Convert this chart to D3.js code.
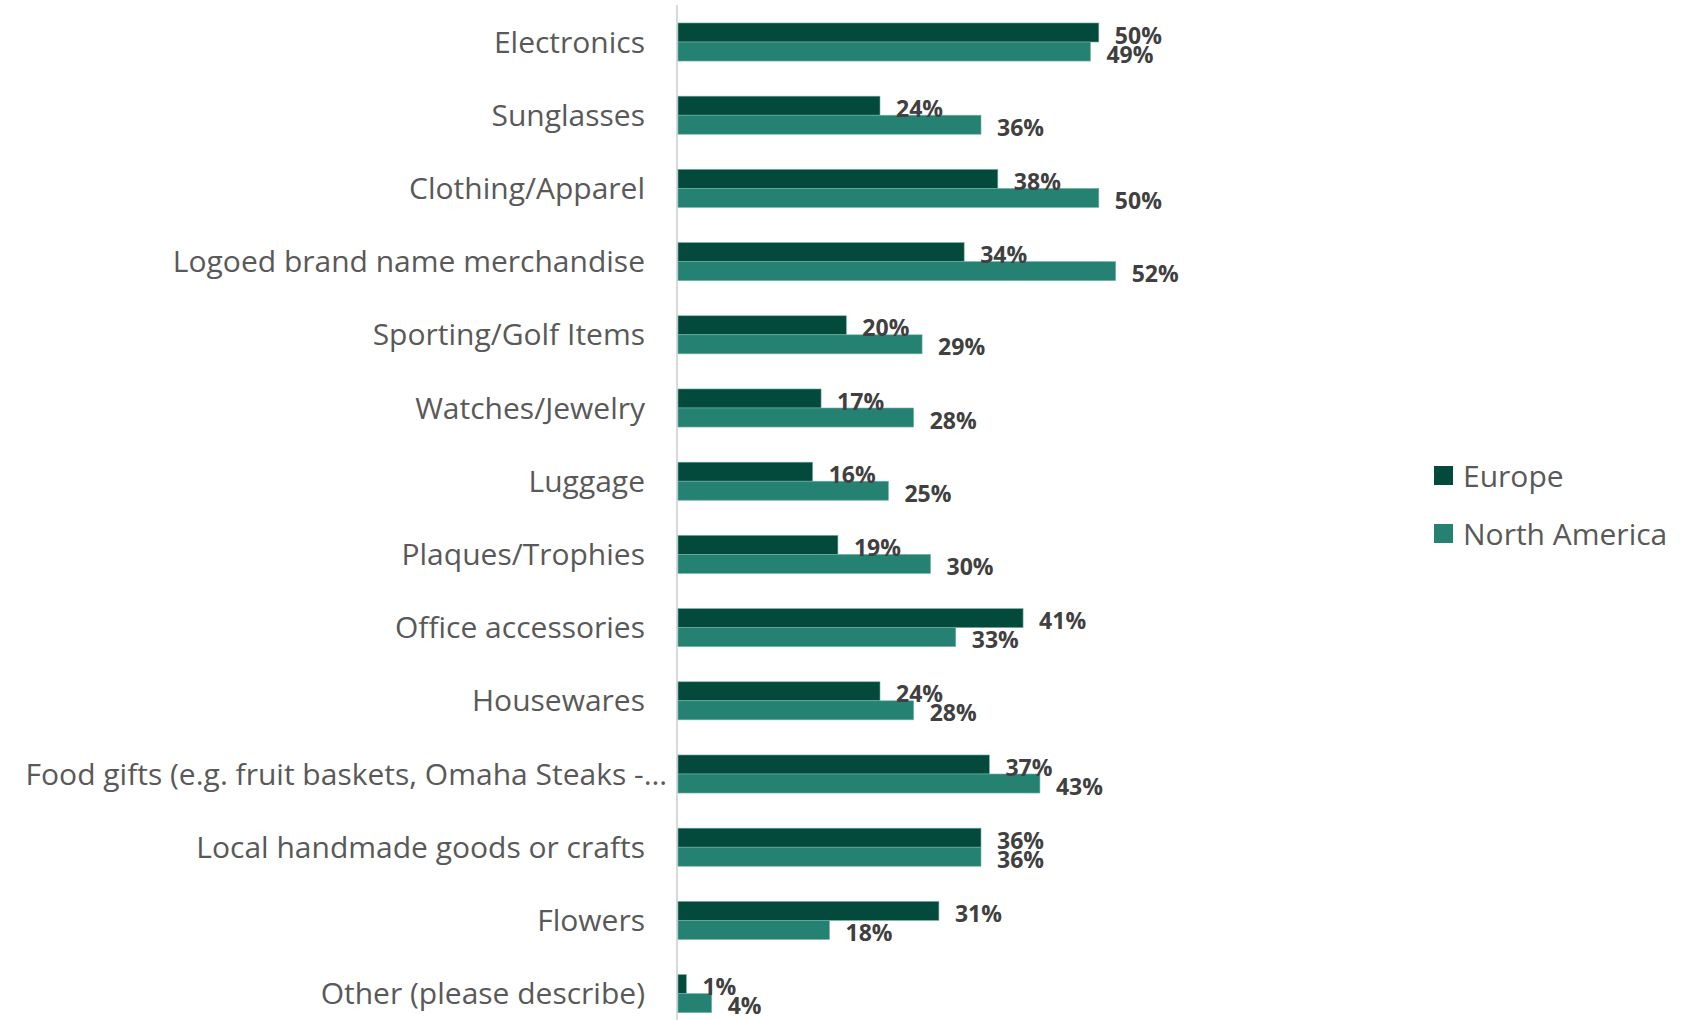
<!DOCTYPE html>
<html>
<head>
<meta charset="utf-8">
<script src="https://cdn.jsdelivr.net/npm/d3@7"></script>
<style>
  html, body { margin: 0; padding: 0; background: #ffffff; }
  svg { display: block; }
</style>
</head>
<body>
<svg id="chart" width="1690" height="1020"></svg>
<script>
// Gift categories, top to bottom
const categories = [
  "Electronics",
  "Sunglasses",
  "Clothing/Apparel",
  "Logoed brand name merchandise",
  "Sporting/Golf Items",
  "Watches/Jewelry",
  "Luggage",
  "Plaques/Trophies",
  "Office accessories",
  "Housewares",
  "Food gifts (e.g. fruit baskets, Omaha Steaks -…",
  "Local handmade goods or crafts",
  "Flowers",
  "Other (please describe)"
];

const seriesNames = ["Europe", "North America"];

// Share of respondents (%)
const europe       = [50, 24, 38, 34, 20, 17, 16, 19, 41, 24, 37, 36, 31, 1];
const northAmerica = [49, 36, 50, 52, 29, 28, 25, 30, 33, 28, 43, 36, 18, 4];

const colors = ["#034a3d", "#258273"];

const rows = categories.map((c, i) => ({ category: c, values: [europe[i], northAmerica[i]] }));

const svg = d3.select("#chart");
const font = "'Open Sans', 'Noto Sans', sans-serif";

const x = d3.scaleLinear().domain([0, 60]).range([678, 1183]);

const y = d3.scaleBand()
  .domain(categories)
  .range([5.4, 1030.2])
  .paddingInner(0.48)
  .paddingOuter(0.24);

const ySeries = d3.scaleBand()
  .domain(seriesNames)
  .range([0, y.bandwidth()]);

// Category axis line
svg.append("line")
  .attr("x1", x(0) - 1).attr("x2", x(0) - 1)
  .attr("y1", 5).attr("y2", 1020)
  .attr("stroke", "#d9d9d9")
  .attr("stroke-width", 2);

// Category labels
svg.append("g").selectAll("text")
  .data(rows)
  .join("text")
  .attr("x", d => d.category.startsWith("Food") ? 667 : 645)
  .attr("y", d => y(d.category) + y.bandwidth() / 2)
  .attr("dy", "0.35em")
  .attr("text-anchor", "end")
  .attr("font-family", font)
  .attr("font-size", 30)
  .attr("fill", "#595959")
  .text(d => d.category);

// Bars and value labels
const groups = svg.append("g").selectAll("g")
  .data(rows)
  .join("g")
  .attr("transform", d => `translate(0,${y(d.category)})`);

groups.selectAll("rect")
  .data(d => d.values.map((v, k) => ({ v, k })))
  .join("rect")
  .attr("x", x(0))
  .attr("y", d => ySeries(seriesNames[d.k]))
  .attr("width", d => x(d.v) - x(0))
  .attr("height", ySeries.bandwidth())
  .attr("fill", d => colors[d.k])
  .attr("stroke", "#6fb3a6")
  .attr("stroke-width", 0.6);

groups.selectAll("text")
  .data(d => d.values.map((v, k) => ({ v, k })))
  .join("text")
  .attr("x", d => x(d.v) + 16)
  .attr("y", d => ySeries(seriesNames[d.k]) + ySeries.bandwidth() + 1.5)
  .attr("font-family", font)
  .attr("font-weight", "bold")
  .attr("font-size", 23)
  .attr("fill", "#404040")
  .text(d => d.v + "%");

// Legend
const legend = svg.append("g").selectAll("g")
  .data(seriesNames)
  .join("g")
  .attr("transform", (d, i) => `translate(1434,${466 + i * 58})`);

legend.append("rect")
  .attr("width", 19).attr("height", 19)
  .attr("fill", (d, i) => colors[i]);

legend.append("text")
  .attr("x", 29)
  .attr("y", 20.5)
  .attr("font-family", font)
  .attr("font-size", 30)
  .attr("fill", "#595959")
  .text(d => d);
</script>
</body>
</html>
